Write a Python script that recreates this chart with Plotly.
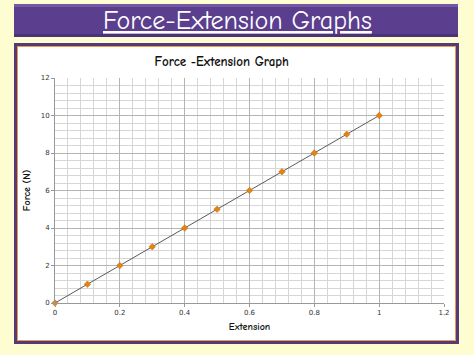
import plotly.graph_objects as go

extension = [0, 0.1, 0.2, 0.3, 0.4, 0.5, 0.6, 0.7, 0.8, 0.9, 1.0]
force = [0, 1, 2, 3, 4, 5, 6, 7, 8, 9, 10]
x_ticks = [0, 0.2, 0.4, 0.6, 0.8, 1, 1.2]
x_labels = ["0", "0.2", "0.4", "0.6", "0.8", "1", "1.2"]
y_ticks = [0, 2, 4, 6, 8, 10, 12]

W, H = 474, 355
L, R, T, B = 55, 444, 78, 303
COMIC = "Comic Neue, Comic Sans MS, DejaVu Sans"

def px(x):
    return (x - L) / (R - L)

def py(y):
    return (B - y) / (B - T)

fig = go.Figure()
fig.add_trace(go.Scatter(
    x=extension, y=force, mode="lines+markers",
    line=dict(color="#5a5a5a", width=1),
    marker=dict(symbol="diamond", size=5, color="#E8820E",
                line=dict(color="#B86A10", width=0.5)),
    showlegend=False, cliponaxis=False))

shapes = []
def rect(x0, y0, x1, y1, fill):
    shapes.append(dict(type="rect", xref="paper", yref="paper",
                       x0=px(x0), x1=px(x1), y0=py(y1), y1=py(y0),
                       fillcolor=fill, line=dict(width=0),
                       layer="below"))

# title bar
rect(14, 4, 458, 37, "#5B3E8E")
rect(14, 4, 458, 7, "#7558A4")
rect(14, 34, 458, 37, "#4C3278")
# frame
rect(14, 43, 459, 344, "#553A78")
rect(17, 46, 456, 341, "#E89A4A")
rect(18, 47, 455, 340, "#FFFFFF")

annotations = [
    dict(text="<u>Force-Extension Graphs</u>", x=px(237), y=py(21), xref="paper", yref="paper",
         showarrow=False, font=dict(family=COMIC, size=26, color="white"),
         xanchor="center", yanchor="middle"),
]

fig.update_layout(
    width=W, height=H,
    margin=dict(l=L, r=W - R, t=T, b=H - B),
    paper_bgcolor="#FEFDD2",
    plot_bgcolor="white",
    shapes=shapes,
    annotations=annotations,
    title=dict(text="<b>Force -Extension Graph</b>", x=px(237), y=1 - 61 / H,
               xanchor="center", yanchor="middle",
               font=dict(family=COMIC, size=13, color="#111")),
    font=dict(family="DejaVu Sans", size=7, color="#333"),
)

fig.update_xaxes(
    range=[0, 1.2], tickvals=x_ticks, ticktext=x_labels,
    showgrid=True, gridcolor="#b4b4b4", gridwidth=1,
    minor=dict(dtick=0.04, tick0=0, showgrid=True, gridcolor="#d6d6d6", gridwidth=1),
    showline=True, linecolor="#999", linewidth=1,
    ticks="outside", ticklen=3, tickcolor="#999",
    zeroline=False,
    tickfont=dict(size=7, color="#333"),
    title=dict(text="<b>Extension</b>", standoff=6,
               font=dict(family=COMIC, size=10, color="#111")),
)
fig.update_yaxes(
    range=[0, 12], tickvals=y_ticks,
    showgrid=True, gridcolor="#b4b4b4", gridwidth=1,
    minor=dict(dtick=0.4, tick0=0, showgrid=True, gridcolor="#d6d6d6", gridwidth=1),
    showline=True, linecolor="#999", linewidth=1,
    ticks="outside", ticklen=3, tickcolor="#999",
    zeroline=False,
    tickfont=dict(size=7, color="#333"),
    title=dict(text="<b>Force (N)</b>", standoff=8,
               font=dict(family=COMIC, size=10, color="#111")),
)

fig.write_html("out.html")
